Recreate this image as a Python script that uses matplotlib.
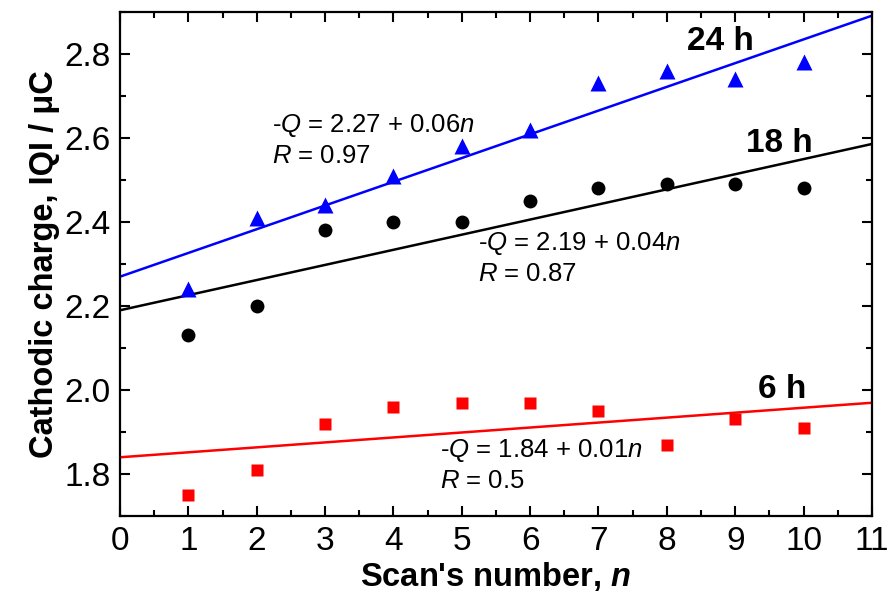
import numpy as np
import matplotlib
matplotlib.use("Agg")
import matplotlib.pyplot as plt
from matplotlib.ticker import MultipleLocator

plt.rcParams['font.family'] = ['Liberation Sans', 'DejaVu Sans']
plt.rcParams['mathtext.fontset'] = 'custom'
plt.rcParams['mathtext.rm'] = 'Liberation Sans'
plt.rcParams['mathtext.it'] = 'Liberation Sans:italic'
plt.rcParams['mathtext.bf'] = 'Liberation Sans:bold'
plt.rcParams['mathtext.bfit'] = 'Liberation Sans:italic:bold'

scans = [1, 2, 3, 4, 5, 6, 7, 8, 9, 10]
q_24h = [2.24, 2.41, 2.44, 2.51, 2.58, 2.62, 2.73, 2.76, 2.74, 2.78]
q_18h = [2.13, 2.20, 2.38, 2.40, 2.40, 2.45, 2.48, 2.49, 2.49, 2.48]
q_6h = [1.75, 1.81, 1.92, 1.96, 1.97, 1.97, 1.95, 1.87, 1.93, 1.91]

fit_intercepts = [2.27, 2.19, 1.84]
fit_slopes = [0.0565, 0.036, 0.0118]
fit_range = [0, 11]

fig = plt.figure(figsize=(8.92, 6.05), dpi=100)
ax = fig.add_axes([0.1345, 0.147, 0.843, 0.833])

xs = np.array(fit_range, dtype=float)
colors = ['#0000ff', '#000000', '#ff0000']
for b, m, c in zip(fit_intercepts, fit_slopes, colors):
    ax.plot(xs, b + m * xs, color=c, lw=1.8, zorder=2)

ax.plot(scans, q_24h, '^', color='#0000ff', ms=11, mec='none', zorder=3)
ax.plot(scans, q_18h, 'o', color='#000000', ms=10, mec='none', zorder=3)
ax.plot(scans, q_6h, 's', color='#ff0000', ms=9, mec='none', zorder=3)

ax.set_xlim(0, 11)
ax.set_ylim(1.7, 2.9)
ax.xaxis.set_major_locator(MultipleLocator(1))
ax.xaxis.set_minor_locator(MultipleLocator(0.5))
ax.set_yticks([1.8, 2.0, 2.2, 2.4, 2.6, 2.8])
ax.set_yticklabels(['1.8', '2.0', '2.2', '2.4', '2.6', '2.8'])
ax.yaxis.set_minor_locator(MultipleLocator(0.1))
ax.tick_params(which='both', direction='in', top=True, right=True, width=1.5)
ax.tick_params(which='major', length=7, labelsize=24, pad=7)
ax.tick_params(which='minor', length=4)
for s in ax.spines.values():
    s.set_linewidth(1.6)

ax.set_xlabel("Scan's number, $\\mathbfit{n}$", fontsize=23.5, fontweight='bold', labelpad=2)
ax.set_ylabel("Cathodic charge, IQI / \u03bcC", fontsize=23.5, fontweight='bold', labelpad=3)

ax.text(8.78, 2.83, '24 h', fontsize=24, fontweight='bold', ha='center', va='center')
ax.text(9.65, 2.586, '18 h', fontsize=24, fontweight='bold', ha='center', va='center')
ax.text(9.69, 2.002, '6 h', fontsize=24, fontweight='bold', ha='center', va='center')

fs = 18.5
ax.text(2.22, 2.63, '-$Q$ = 2.27 + 0.06$n$', fontsize=fs, ha='left', va='center')
ax.text(2.22, 2.557, '$R$ = 0.97', fontsize=fs, ha='left', va='center')
ax.text(5.24, 2.348, '-$Q$ = 2.19 + 0.04$n$', fontsize=fs, ha='left', va='center')
ax.text(5.24, 2.276, '$R$ = 0.87', fontsize=fs, ha='left', va='center')
ax.text(4.68, 1.855, '-$Q$ = 1.84 + 0.01$n$', fontsize=fs, ha='left', va='center')
ax.text(4.68, 1.783, '$R$ = 0.5', fontsize=fs, ha='left', va='center')

fig.savefig('out.png', dpi=100)
